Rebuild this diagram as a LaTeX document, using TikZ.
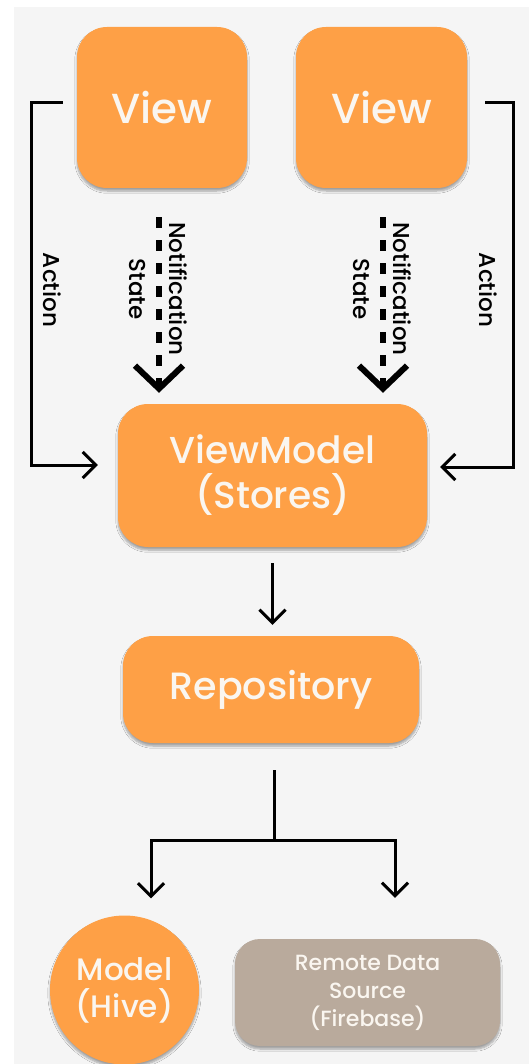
\documentclass[tikz,border=0pt]{standalone}
\usepackage{fontspec}
\setmainfont{Poppins Medium}
\usetikzlibrary{arrows.meta,shadows.blur}
\definecolor{bg}{HTML}{F5F5F5}
\definecolor{orange}{HTML}{FEA046}
\definecolor{taupe}{HTML}{B9AA9C}
\definecolor{ink}{HTML}{FAF6F0}
\tikzset{
  box/.style={fill=#1, rounded corners=30pt, text=ink, align=center,
    inner sep=0pt, blur shadow={shadow xshift=0pt, shadow yshift=-3pt,
    shadow blur steps=6, shadow opacity=35}},
  box/.default=orange,
  act/.style={line width=3pt, -{Straight Barb[length=13pt,width=26pt]}},
  link/.style={line width=3pt},
  notif/.style={line width=6pt, dash pattern=on 11pt off 12pt,
    -{Straight Barb[length=23pt,width=48pt]}},
  lbl/.style={rotate=-90, align=center, font=\fontsize{23}{40}\selectfont}
}
\begin{document}
\begin{tikzpicture}[x=1pt,y=-1pt]
  % canvas and grey panel
  \fill[white] (0,0) rectangle (529,1064);
  \fill[bg] (14,7) rectangle (529,1064);
  \useasboundingbox (0,0) rectangle (529,1064);

  % view layer
  \node[box, minimum width=170pt, minimum height=161pt,
        font=\fontsize{42}{48}\selectfont] (vl) at (162,107.5) {View};
  \node[box, minimum width=171pt, minimum height=161pt,
        font=\fontsize{42}{48}\selectfont] (vr) at (381.5,107.5) {View};

  % view model
  \node[box, minimum width=309pt, minimum height=143pt,
        font=\fontsize{37.5}{45}\selectfont] (vm) at (272.5,475.5) {ViewModel\\(Stores)};

  % repository
  \node[box, minimum width=296pt, minimum height=107pt,
        font=\fontsize{38}{44}\selectfont] (repo) at (271,689.5) {Repository};

  % data sources
  \node[circle, fill=orange, text=ink, align=center, inner sep=0pt,
        minimum size=149pt, font=\fontsize{31}{37}\selectfont,
        blur shadow={shadow xshift=0pt, shadow yshift=-3pt, shadow blur steps=6, shadow opacity=35}]
        (model) at (124.5,990) {Model\\(Hive)};
  \node[box=taupe, rounded corners=25pt, minimum width=265pt, minimum height=107pt,
        font=\fontsize{22}{28}\selectfont] (remote) at (367.5,992.5)
        {Remote Data\\Source\\(Firebase)};

  % actions from the views
  \draw[act, shorten <=14pt, shorten >=20pt]
    ([yshift=4.5pt]vl.west) -- ++(-45,0) |- ([yshift=10.5pt]vm.west);
  \draw[act, shorten <=18pt, shorten >=13pt]
    ([yshift=4.5pt]vr.east) -- ++(46,0) |- ([yshift=8.5pt]vm.east);
  \node[lbl] (al) at (52,290) {Action};
  \node[lbl] (ar) at (488,290) {Action};

  % state notifications
  \draw[notif, shorten <=29pt, shorten >=11pt]
    ([xshift=-3pt]vl.south) -- ([xshift=-3pt]vl.south |- vm.north);
  \draw[notif, shorten <=29pt, shorten >=11pt]
    ([xshift=1.5pt]vr.south) -- ([xshift=1.5pt]vr.south |- vm.north);
  \node[lbl] (nl) at (158,289) {Notification\\State};
  \node[lbl] (nr) at (382,289) {Notification\\State};

  % view model to repository
  \draw[act, shorten <=16pt, shorten >=11pt] (vm.south) -- (vm.south |- repo.north);

  % repository fans out to the sources
  \coordinate (split) at (274,840);
  \draw[link, shorten <=27pt] (split |- repo.south) -- (split);
  \draw[act, shorten >=17pt] (split) -| ([xshift=26.5pt]model.north);
  \draw[act, shorten >=41pt] (split) -| ([xshift=27.5pt]remote.north);
\end{tikzpicture}
\end{document}
